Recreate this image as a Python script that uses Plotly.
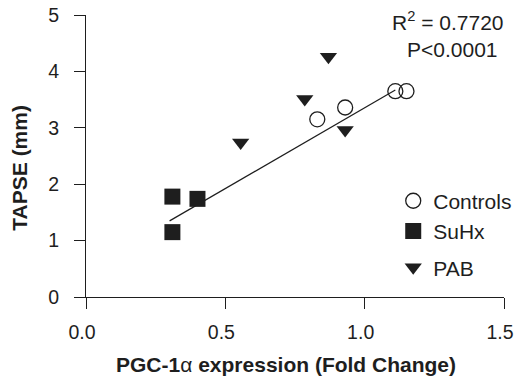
import plotly.graph_objects as go

# Data
controls_x = [0.83, 0.93, 1.11, 1.15]
controls_y = [3.15, 3.36, 3.65, 3.65]
suhx_x = [0.31, 0.40, 0.31]
suhx_y = [1.78, 1.74, 1.15]
pab_x = [0.87, 0.785, 0.555, 0.93]
pab_y = [4.26, 3.51, 2.74, 2.96]
fit_x = [0.30, 1.11]
fit_y = [1.35, 3.67]
x_ticks = [0.0, 0.5, 1.0, 1.5]
x_tick_labels = ["0.0", "0.5", "1.0", "1.5"]
y_ticks = [0, 1, 2, 3, 4, 5]
stats_lines = ["R<sup>2</sup> = 0.7720", "P<0.0001"]
x_title = "<b>PGC-1</b>α<b> expression (Fold Change)</b>"
y_title = "<b>TAPSE (mm)</b>"

FONT = "Liberation Sans, Arial, Helvetica, sans-serif"
INK = "#1e1e1e"

fig = go.Figure()
fig.add_trace(go.Scatter(x=fit_x, y=fit_y, mode="lines", line=dict(color=INK, width=1.2),
                         showlegend=False, hoverinfo="skip"))
fig.add_trace(go.Scatter(x=controls_x, y=controls_y, mode="markers", name="Controls",
                         legendgroup="a",
                         marker=dict(symbol="circle-open", size=15, color=INK, line=dict(width=1.3, color=INK))))
fig.add_trace(go.Scatter(x=suhx_x, y=suhx_y, mode="markers", name="SuHx",
                         legendgroup="a",
                         marker=dict(symbol="square", size=16, color=INK)))
fig.add_trace(go.Scatter(x=pab_x, y=pab_y, mode="markers", name="PAB",
                         legendgroup="b",
                         marker=dict(symbol="triangle-down", size=15, color=INK)))

fig.add_annotation(xref="paper", yref="paper", x=1.005, y=0.98, xanchor="right", yanchor="middle",
                   text=stats_lines[0], showarrow=False, font=dict(size=21, color=INK, family=FONT))
fig.add_annotation(xref="paper", yref="paper", x=0.99, y=0.878, xanchor="right", yanchor="middle",
                   text=stats_lines[1], showarrow=False, font=dict(size=21, color=INK, family=FONT))
fig.add_annotation(xref="paper", yref="paper", x=0.478, y=-0.241, xanchor="center", yanchor="middle",
                   text=x_title, showarrow=False, font=dict(size=21, color=INK, family=FONT))
fig.add_annotation(xref="paper", yref="paper", x=-0.159, y=0.457, xanchor="center", yanchor="middle",
                   textangle=-90, text=y_title, showarrow=False,
                   font=dict(size=21, color=INK, family=FONT))

# page body has an 8px margin: figure is 516x369 so it fills the 524x377 window
fig.update_layout(
    width=516, height=369,
    margin=dict(l=78, r=11, t=7, b=80),
    paper_bgcolor="white", plot_bgcolor="white",
    font=dict(family=FONT, color=INK, size=19.5),
    legend=dict(x=0.735, y=0.223, xanchor="left", yanchor="middle",
                font=dict(size=21, color=INK, family=FONT), bgcolor="rgba(0,0,0,0)",
                traceorder="grouped", tracegroupgap=6, itemsizing="trace"),
    xaxis=dict(range=[0, 1.5], tickvals=x_ticks, ticktext=x_tick_labels, automargin=False,
               showline=True, linecolor=INK, linewidth=1.2, ticks="outside", ticklen=11,
               tickwidth=1.2, tickcolor=INK, showgrid=False, zeroline=False,
               ticklabeloverflow="allow", ticklabelshift=-4,
               tickfont=dict(size=19.5, color=INK), ticklabelstandoff=6),
    yaxis=dict(range=[0, 5], tickvals=y_ticks, automargin=False,
               showline=True, linecolor=INK, linewidth=1.2, ticks="outside", ticklen=11,
               tickwidth=1.2, tickcolor=INK, showgrid=False, zeroline=False,
               ticklabeloverflow="allow",
               tickfont=dict(size=19.5, color=INK), ticklabelstandoff=11),
)

fig.write_html("out.html")
